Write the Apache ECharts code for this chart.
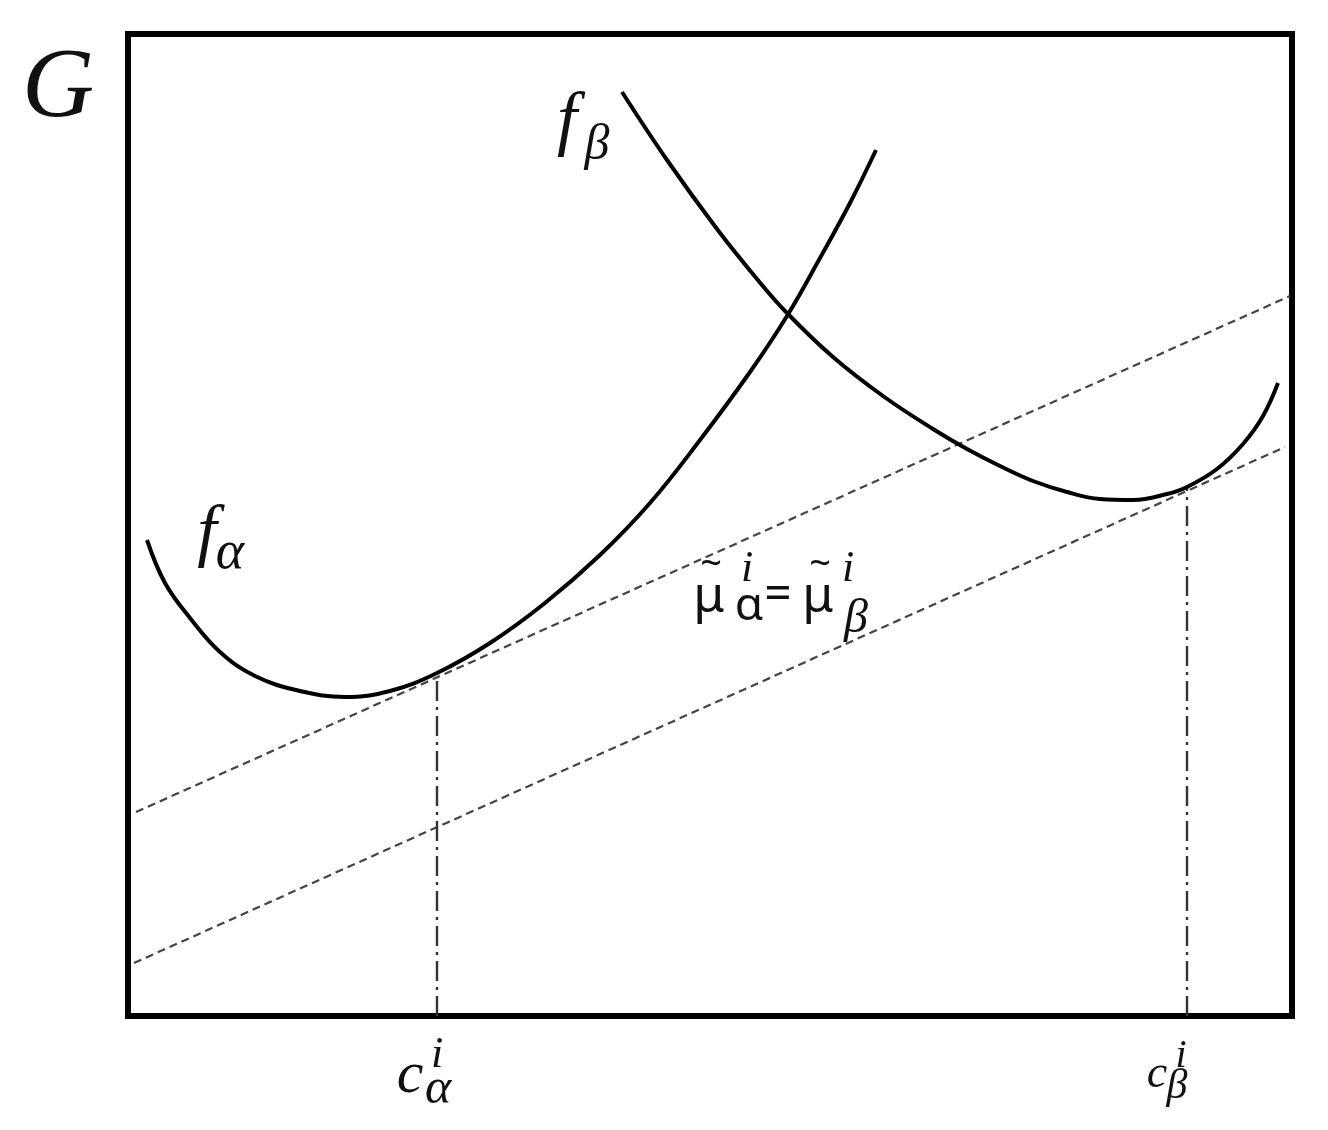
<!DOCTYPE html>
<html>
<head>
<meta charset="utf-8">
<script src="https://cdn.jsdelivr.net/npm/echarts@6/dist/echarts.min.js"></script>
<style>
  html, body { margin: 0; background: #fff; }
  #chart { width: 1328px; height: 1130px; }
</style>
</head>
<body>
<div id="chart"></div>
<script>
// composition (x) and free energy G
const alphaX = [19, 37, 62, 92, 127, 172, 217, 262, 309, 362, 417, 472, 522, 572, 622, 659, 692, 722, 748]
const alphaG = [476, 433, 398, 364, 340, 325, 319, 325, 343, 373, 413, 461, 513, 576, 644, 700, 758, 813, 866]

const betaX = [494, 539, 589, 629, 659, 705, 755, 805, 839, 872, 905, 939, 972, 1005, 1039, 1059, 1089, 1115, 1135, 1150]
const betaG = [924, 856, 787, 737, 703, 659, 620, 587, 567, 550, 535, 524, 517, 516, 522, 529, 547, 572, 600, 633]

// common tangent lines (equal chemical potentials)
const tangentUpperX = [8, 1162]
const tangentUpperG = [204, 720]
const tangentLowerX = [6, 1157]
const tangentLowerG = [53, 569]

// equilibrium compositions c_alpha, c_beta
const cAlphaX = [309, 309]
const cAlphaG = [0, 343]
const cBetaX = [1059, 1059]
const cBetaG = [0, 529]

const zip = (xs, ys) => xs.map((x, i) => [x, ys[i]])

const serifIt = (size) => `italic ${size}px "Liberation Serif"`
const sans = (size) => `${size}px "Noto Sans"`

const txt = (text, x, y, font) => ({
  type: 'text',
  x: x,
  y: y,
  style: { text: text, font: font, fill: '#111', textAlign: 'center', textVerticalAlign: 'middle' }
})

const chart = echarts.init(document.getElementById('chart'))

const curve = (name, data) => ({
  name: name,
  type: 'line',
  data: data,
  smooth: 0.4,
  showSymbol: false,
  silent: true,
  lineStyle: { color: '#000', width: 4 }
})

const dashed = (data) => ({
  type: 'line',
  data: data,
  showSymbol: false,
  silent: true,
  lineStyle: { color: '#444', width: 2.2, type: [8, 5] }
})

const dashDot = (data) => ({
  type: 'line',
  data: data,
  showSymbol: false,
  silent: true,
  lineStyle: { color: '#333', width: 2.4, type: [20, 6, 3, 6] }
})

chart.setOption({
  animation: false,
  backgroundColor: '#fff',
  grid: {
    left: 128, top: 34, width: 1164, height: 982,
    show: true, borderColor: '#000', borderWidth: 6, backgroundColor: 'transparent'
  },
  xAxis: { type: 'value', min: 0, max: 1164, show: false },
  yAxis: { type: 'value', min: 0, max: 982, show: false },
  series: [
    dashed(zip(tangentUpperX, tangentUpperG)),
    dashed(zip(tangentLowerX, tangentLowerG)),
    dashDot(zip(cAlphaX, cAlphaG)),
    dashDot(zip(cBetaX, cBetaG)),
    curve('fα', zip(alphaX, alphaG)),
    curve('fβ', zip(betaX, betaG))
  ],
  graphic: [
    txt('G', 58, 90, serifIt(100)),
    // f_beta
    txt('f', 567, 123, serifIt(72)),
    txt('β', 597, 146, serifIt(50)),
    // f_alpha
    txt('f', 207, 535, serifIt(70)),
    txt('α', 230, 554, serifIt(54)),
    // mu_alpha = mu_beta
    txt('μ', 709, 598, sans(50)),
    txt('~', 711, 565, sans(38)),
    txt('i', 747, 569, serifIt(44)),
    txt('α', 749, 607, sans(46)),
    txt('=', 778, 595, sans(48)),
    txt('μ', 818, 598, sans(50)),
    txt('~', 820, 565, sans(38)),
    txt('i', 848, 569, serifIt(44)),
    txt('β', 856, 619, serifIt(48)),
    // c_alpha
    txt('c', 410, 1076, serifIt(60)),
    txt('i', 437, 1055, serifIt(44)),
    txt('α', 438, 1090, serifIt(50)),
    // c_beta
    txt('c', 1157, 1075, serifIt(46)),
    txt('i', 1181, 1056, serifIt(40)),
    txt('β', 1177, 1087, serifIt(42))
  ]
})
</script>
</body>
</html>
